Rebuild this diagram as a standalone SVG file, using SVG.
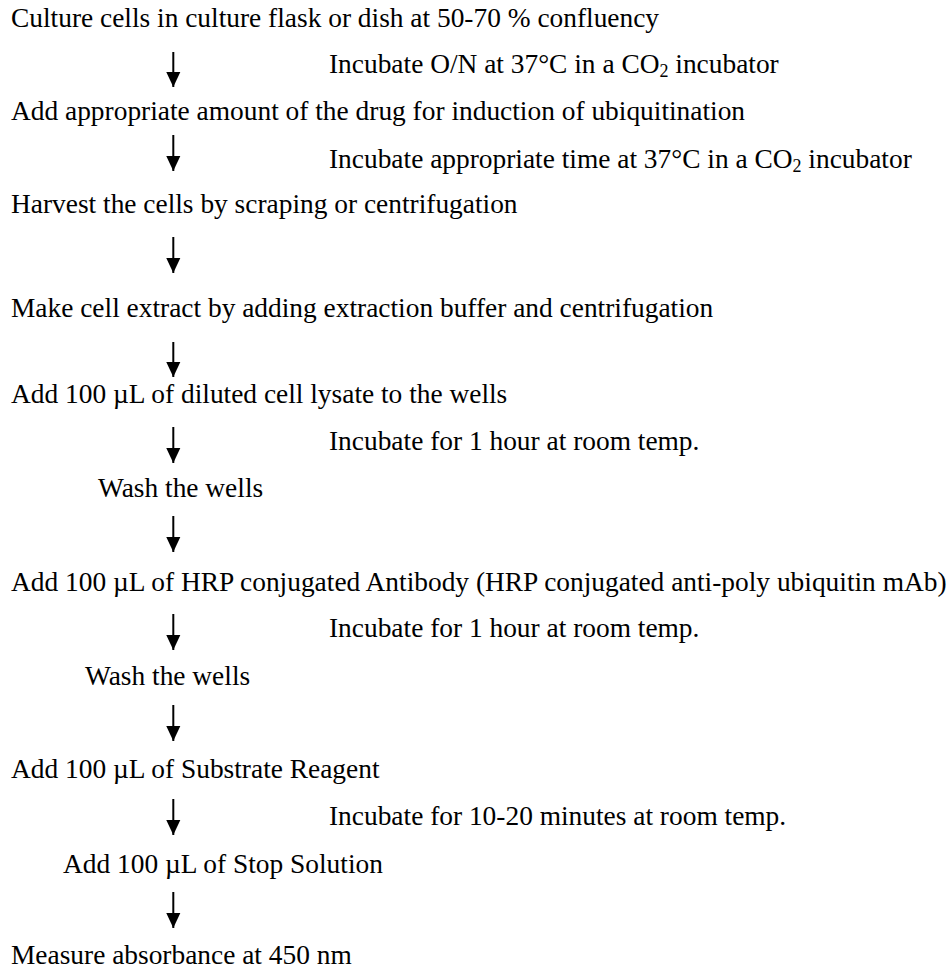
<svg xmlns="http://www.w3.org/2000/svg" width="951" height="971" viewBox="0 0 951 971">
<style>
text { font-family: "Liberation Serif", "Times New Roman", serif; font-size: 27.4px; fill: #000; }
.arrow { stroke: #000; stroke-width: 2; fill: none; marker-end: url(#head); }
</style>
<defs>
<marker id="head" markerUnits="userSpaceOnUse" markerWidth="15" markerHeight="16" refX="16" refY="7.5" orient="auto" viewBox="0 0 16 15">
<path d="M0,0 L16,7.5 L0,15 Z" fill="#000"/>
</marker>
</defs>
<rect width="951" height="971" fill="#fff"/>
<g id="connectors">
<line class="arrow" x1="173.3" y1="52" x2="173.3" y2="87"/>
<line class="arrow" x1="173.3" y1="135" x2="173.3" y2="171"/>
<line class="arrow" x1="173.3" y1="237" x2="173.3" y2="273"/>
<line class="arrow" x1="173.3" y1="342" x2="173.3" y2="377"/>
<line class="arrow" x1="173.3" y1="427" x2="173.3" y2="463"/>
<line class="arrow" x1="173.3" y1="516" x2="173.3" y2="552"/>
<line class="arrow" x1="173.3" y1="614" x2="173.3" y2="650"/>
<line class="arrow" x1="173.3" y1="705" x2="173.3" y2="741"/>
<line class="arrow" x1="173.3" y1="799" x2="173.3" y2="835"/>
<line class="arrow" x1="173.3" y1="892" x2="173.3" y2="928"/>
</g>
<g id="step1"><text x="11" y="27">Culture cells in culture flask or dish at 50-70 % confluency</text></g>
<g id="note1"><text x="329" y="73">Incubate O/N at 37°C in a CO<tspan font-size="18" dy="4">2</tspan><tspan dy="-4"> incubator</tspan></text></g>
<g id="step2"><text x="11" y="120">Add appropriate amount of the drug for induction of ubiquitination</text></g>
<g id="note2"><text x="329" y="168">Incubate appropriate time at 37°C in a CO<tspan font-size="18" dy="4">2</tspan><tspan dy="-4"> incubator</tspan></text></g>
<g id="step3"><text x="11" y="213">Harvest the cells by scraping or centrifugation</text></g>
<g id="step4"><text x="11" y="317">Make cell extract by adding extraction buffer and centrifugation</text></g>
<g id="step5"><text x="11" y="403">Add 100 µL of diluted cell lysate to the wells</text></g>
<g id="note3"><text x="329" y="450">Incubate for 1 hour at room temp.</text></g>
<g id="step6"><text x="98" y="497">Wash the wells</text></g>
<g id="step7"><text x="11" y="591">Add 100 µL of HRP conjugated Antibody (HRP conjugated anti-poly ubiquitin mAb)</text></g>
<g id="note4"><text x="329" y="637">Incubate for 1 hour at room temp.</text></g>
<g id="step8"><text x="85" y="685">Wash the wells</text></g>
<g id="step9"><text x="11" y="778">Add 100 µL of Substrate Reagent</text></g>
<g id="note5"><text x="329" y="825">Incubate for 10-20 minutes at room temp.</text></g>
<g id="step10"><text x="63" y="873">Add 100 µL of Stop Solution</text></g>
<g id="step11"><text x="11" y="964">Measure absorbance at 450 nm</text></g>
</svg>
